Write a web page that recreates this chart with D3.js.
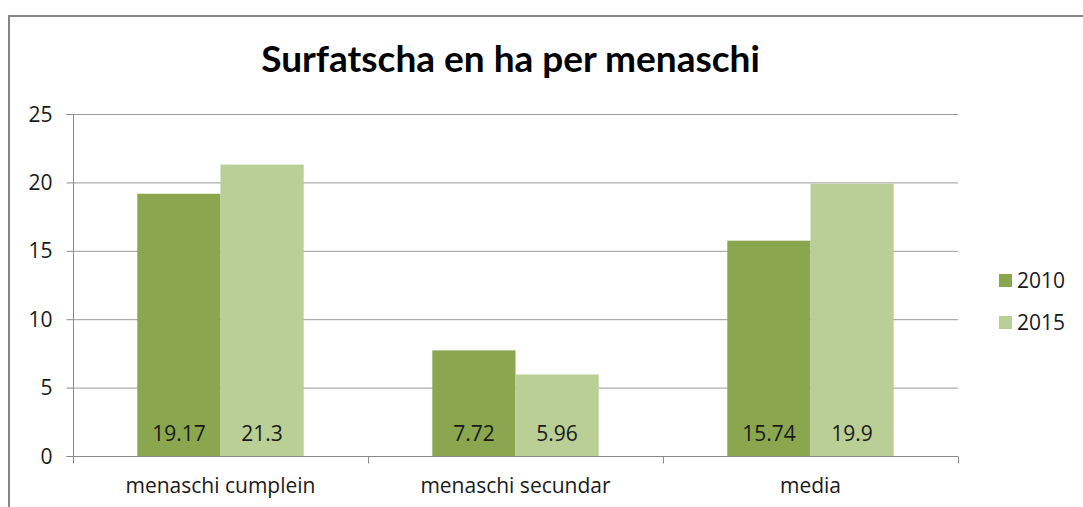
<!DOCTYPE html>
<html><head><meta charset="utf-8">
<script src="https://cdn.jsdelivr.net/npm/d3@7"></script>
<style>body{margin:0;background:#fff}svg{display:block}text{font-family:"Open Sans",sans-serif}text.title{font-family:Lato,"Open Sans",sans-serif}</style>
</head><body><svg id="c" width="1083" height="507"></svg>
<script>
const categories = ["menaschi cumplein", "menaschi secundar", "media"];
const seriesNames = ["2010", "2015"];
const values2010 = [19.17, 7.72, 15.74];
const values2015 = [21.3, 5.96, 19.9];
const yTicks = [0, 5, 10, 15, 20, 25];
const colors = ["#8AA64F", "#BACF96"];
const title = "Surfatscha en ha per menaschi";

const svg = d3.select("#c");
svg.append("rect").attr("x",9).attr("y",16).attr("width",1100).attr("height",520)
  .attr("fill","#fff").attr("stroke","#868686").attr("stroke-width",2);

const L=73,R=958,T=114,B=456;
const FS=21, TXT="#1a1a1a", AX="#8a8a8a";
const x0 = d3.scaleBand().domain(categories).range([L,R]);
const bw = x0.bandwidth();
const x1 = d3.scaleBand().domain(seriesNames).range([bw*0.218, bw*0.782]);
const y = d3.scaleLinear().domain([0,25]).range([B,T]);

// gridlines
svg.append("g").selectAll("line").data(yTicks.filter(d=>d>0)).join("line")
  .attr("x1",L).attr("x2",R).attr("y1",d=>y(d)+0.5).attr("y2",d=>y(d)+0.5)
  .attr("stroke","#9a9a9a").attr("stroke-width",1);

const data = [values2010, values2015];
const g = svg.append("g");
categories.forEach((c,i)=>{
  seriesNames.forEach((s,j)=>{
    const v = data[j][i];
    g.append("rect").attr("x",x0(c)+x1(s)).attr("width",x1.bandwidth())
      .attr("y",y(v)).attr("height",B-y(v)).attr("fill",colors[j]);
    g.append("text").attr("x",x0(c)+x1(s)+x1.bandwidth()/2).attr("y",B-15.5)
      .attr("text-anchor","middle").attr("font-size",FS).attr("fill",TXT).text(String(v));
  });
});

// y axis
const ya = svg.append("g").attr("transform",`translate(${L+0.5},0)`)
  .call(d3.axisLeft(y).tickValues(yTicks).tickSize(7).tickPadding(14).tickFormat(d3.format("d")));
ya.attr("font-family",null);
ya.select(".domain").attr("stroke",AX).attr("d",`M-7,${T+0.5}H0V${B+0.5}H-7`);
ya.selectAll(".tick line").attr("stroke",AX);
ya.selectAll("text").attr("font-size",FS).attr("fill",TXT).attr("dy",null).attr("y",7);

// x axis
const xa = svg.append("g").attr("transform",`translate(0,${B+0.5})`);
xa.append("line").attr("x1",L).attr("x2",R).attr("stroke",AX);
xa.selectAll("line.t").data(categories.map(c=>x0(c)).concat([R])).join("line").attr("class","t")
  .attr("x1",d=>d+0.5).attr("x2",d=>d+0.5).attr("y1",0).attr("y2",7).attr("stroke",AX);
xa.selectAll("text").data(categories).join("text")
  .attr("x",d=>x0(d)+bw/2).attr("y",36).attr("text-anchor","middle")
  .attr("font-size",FS).attr("fill",TXT).text(d=>d);

// title
svg.append("text").attr("class","title").attr("x",510.5).attr("y",72).attr("text-anchor","middle")
  .attr("font-size",37).attr("font-weight","bold").attr("fill","#000").text(title);

// legend
const lg = svg.append("g");
seriesNames.forEach((s,j)=>{
  const cy = 280 + j*42;
  lg.append("rect").attr("x",999).attr("y",cy-6).attr("width",13).attr("height",13).attr("fill",colors[j]);
  lg.append("text").attr("x",1017).attr("y",cy+7.5).attr("font-size",FS).attr("fill",TXT).text(s);
});
</script></body></html>
